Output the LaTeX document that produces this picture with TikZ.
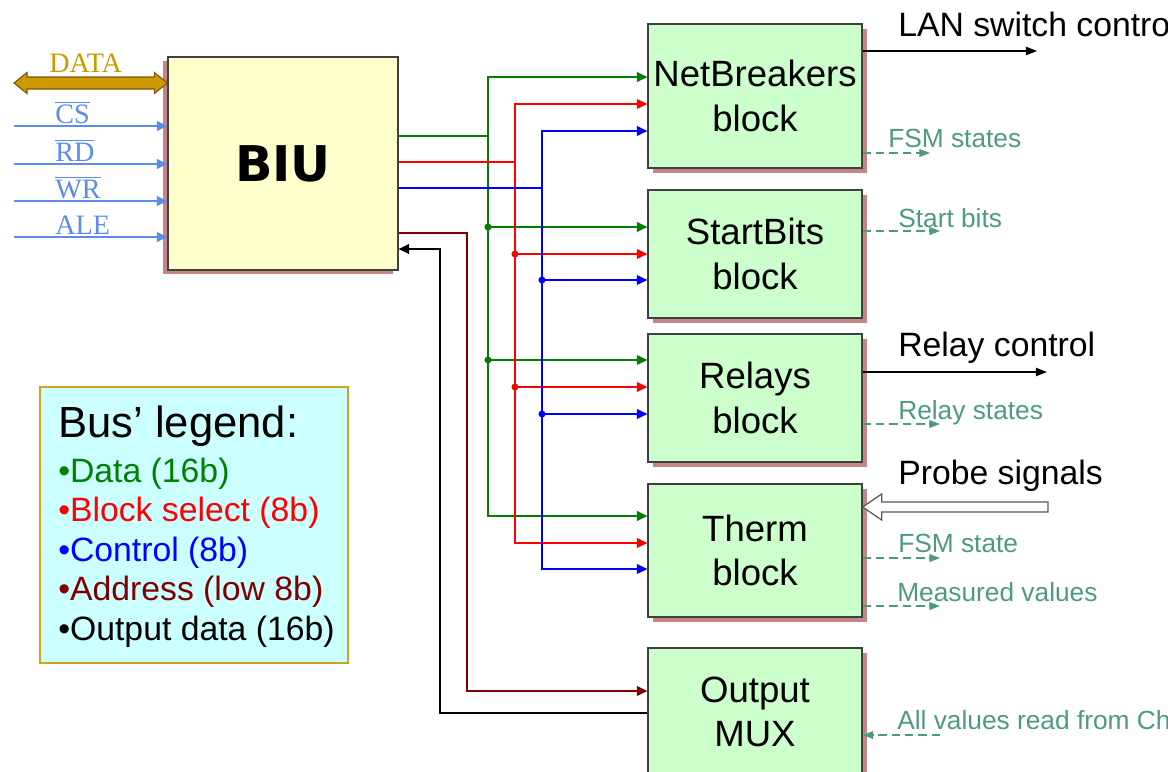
\documentclass[tikz,border=0pt]{standalone}
\usepackage{fontspec}
\setmainfont{Liberation Sans}
\newfontfamily\serifsig{Liberation Serif}
\newfontfamily\biufont{DejaVu Sans}
\usetikzlibrary{positioning,arrows.meta,calc,shadows}
\definecolor{BlkFill}{HTML}{CCFFCC}
\definecolor{BiuFill}{HTML}{FFFFCC}
\definecolor{ShadowRed}{HTML}{C38585}
\definecolor{SigBlue}{HTML}{5B8CE8}
\definecolor{DataGold}{HTML}{CC9900}
\definecolor{DataEdge}{HTML}{7A5A00}
\definecolor{StatTeal}{HTML}{4E9A80}
\definecolor{LegFill}{HTML}{CCFFFF}
\definecolor{LegEdge}{HTML}{D4A020}
\definecolor{BusGreen}{HTML}{008000}
\definecolor{BusRed}{HTML}{FF0000}
\definecolor{BusBlue}{HTML}{0000FF}
\definecolor{BusBrown}{HTML}{800000}
\newcommand\pxu{0.025cm}
\tikzset{
  blk/.style={draw=black!75, line width=0.9pt, fill=BlkFill, align=center, inner sep=0pt,
              minimum width=214*\pxu, font=\fontsize{26}{31.5}\selectfont,
              drop shadow={shadow xshift=3.5pt, shadow yshift=-3.5pt, fill=ShadowRed, opacity=1}},
  biubox/.style={draw=black!75, line width=0.9pt, fill=BiuFill, inner sep=0pt,
              minimum width=230*\pxu, minimum height=213*\pxu,
              font=\biufont\bfseries\fontsize{35}{40}\selectfont,
              drop shadow={shadow xshift=-3.5pt, shadow yshift=-3pt, fill=ShadowRed, opacity=1}},
  bus/.style={line width=1pt},
  busarr/.style={-{Triangle[length=7.5pt,width=7pt]}},
  jdot/.style={circle, fill, inner sep=0pt, minimum size=5pt},
  sigin/.style={SigBlue, line width=1pt, -{Triangle[length=7.5pt,width=7pt]}},
  siglbl/.style={anchor=base west, inner sep=0pt, text=SigBlue,
              font=\serifsig\fontsize{20}{24}\selectfont},
  databus/.style={draw=DataEdge, line width=0.8pt, fill=DataGold, line join=miter},
  outarr/.style={line width=0.9pt, -{Triangle[length=8pt,width=6pt]}},
  outlbl/.style={anchor=base west, inner sep=0pt, font=\fontsize{24}{28}\selectfont},
  stat/.style={StatTeal, line width=0.75pt, dash pattern=on 6pt off 3.5pt,
              -{Triangle[length=7.5pt,width=5.5pt]}},
  statlbl/.style={anchor=base west, inner sep=0pt, text=StatTeal,
              font=\fontsize{18.7}{22}\selectfont},
  probe/.style={draw=black!65, line width=0.9pt, fill=white},
  legbox/.style={draw=LegEdge, line width=1.5pt, fill=LegFill, inner sep=0pt,
              minimum width=308*\pxu, minimum height=276*\pxu},
  legitem/.style={anchor=base west, inner sep=0pt, font=\fontsize{24}{28}\selectfont},
}

\begin{document}
\begin{tikzpicture}[x=0.025cm, y=-0.025cm]
  \useasboundingbox (0,0) rectangle (1168,771);
  \clip (0,0) rectangle (1168,771);

  % blocks
  \node[biubox] (biu) at (283,163.5) {BIU};
  \node[blk, minimum height=144*\pxu] (nb) at (755,96) {NetBreakers\\block};
  \node[blk, minimum height=128*\pxu] (sb) at (755,254) {StartBits\\block};
  \node[blk, minimum height=128*\pxu] (rl) at (755,398) {Relays\\block};
  \node[blk, minimum height=133*\pxu] (th) at (755,550.5) {Therm\\block};
  \node[blk, minimum height=128*\pxu] (mux) at (755,712) {Output\\MUX};

  % host interface
  \coordinate (dataIn) at (14,83);
  \draw[databus] (dataIn) -- ++(13,-10.5) -- ++(0,4.5)
    -- ($(biu.west |- dataIn)+(-13,-6)$) -- ++(0,-4.5) -- (biu.west |- dataIn)
    -- ++(-13,10.5) -- ++(0,-4.5) -- ($(dataIn)+(13,6)$) -- ++(0,4.5) -- cycle;
  \node[siglbl, text=DataGold] (dataLbl) at (49,72) {DATA};
  \foreach \s/\y in {CS/126, RD/164, WR/201} {
    \coordinate (in\s) at (14,\y);
    \draw[sigin] (in\s) -- (biu.west |- in\s);
    \node[siglbl] (lbl\s) at (55,\y-3) {$\overline{\mbox{\s}}$};
  }
  \coordinate (inALE) at (14,237);
  \draw[sigin] (inALE) -- (biu.west |- inALE);
  \node[siglbl] (lblALE) at (55,234) {ALE};

  % data bus (green)
  \draw[bus, busarr, BusGreen] (biu.east |- 0,136) -| (488,77) -- (nb.west |- 0,77);
  \draw[bus, busarr, BusGreen] (488,136) |- (th.west |- 0,516);
  \foreach \b/\y in {sb/227, rl/360}
    \draw[bus, busarr, BusGreen] (488,\y) node[jdot] (g\b) {} -- (\b.west |- 0,\y);

  % block select (red)
  \draw[bus, busarr, BusRed] (biu.east |- 0,162) -| (515,104) -- (nb.west |- 0,104);
  \draw[bus, busarr, BusRed] (515,162) |- (th.west |- 0,543);
  \foreach \b/\y in {sb/254, rl/387}
    \draw[bus, busarr, BusRed] (515,\y) node[jdot] (r\b) {} -- (\b.west |- 0,\y);

  % control (blue)
  \draw[bus, busarr, BusBlue] (biu.east |- 0,188) -| (542,131) -- (nb.west |- 0,131);
  \draw[bus, busarr, BusBlue] (542,188) |- (th.west |- 0,569);
  \foreach \b/\y in {sb/280, rl/414}
    \draw[bus, busarr, BusBlue] (542,\y) node[jdot] (b\b) {} -- (\b.west |- 0,\y);

  % address + output data
  \draw[bus, busarr, BusBrown] (biu.east |- 0,233) -| (467,691) -- (mux.west |- 0,691);
  \draw[bus, busarr, black] (mux.west |- 0,713) -| (440,249) -- (biu.east |- 0,249);

  % outputs
  \coordinate (lanEnd) at (1037,51);
  \coordinate (relEnd) at (1047,372);
  \draw[outarr] (nb.east |- lanEnd) -- (lanEnd);
  \draw[outarr] (rl.east |- relEnd) -- (relEnd);
  \node[outlbl] (lanLbl) at (898,36) {LAN switch control};
  \node[outlbl] (relLbl) at (898,356) {Relay control};

  \coordinate (probeIn) at (1048,507);
  \draw[probe] (th.east |- probeIn) -- ++(19,-13) -- ++(0,8) -- ($(probeIn)+(0,-5)$)
    -- ++(0,10) -- ($(th.east |- probeIn)+(19,5)$) -- ++(0,8) -- cycle;
  \node[outlbl] (probeLbl) at (898,484) {Probe signals};

  % status outputs
  \coordinate (fsmA) at (930,153);
  \coordinate (stbE) at (940,231);
  \coordinate (rlsE) at (940,424);
  \coordinate (fsmB) at (940,558);
  \coordinate (measE) at (940,606);
  \coordinate (allS) at (940,735);
  \draw[stat] (nb.east |- fsmA) -- (fsmA);
  \draw[stat] (sb.east |- stbE) -- (stbE);
  \draw[stat] (rl.east |- rlsE) -- (rlsE);
  \draw[stat] (th.east |- fsmB) -- (fsmB);
  \draw[stat] (th.east |- measE) -- (measE);
  \draw[stat] (allS) -- (mux.east |- allS);
  \node[statlbl] (fsmALbl) at (888,147) {FSM states};
  \node[statlbl] (stbLbl) at (898,227) {Start bits};
  \node[statlbl] (rlsLbl) at (898,419) {Relay states};
  \node[statlbl] (fsmBLbl) at (898,552) {FSM state};
  \node[statlbl] (measLbl) at (897,601) {Measured values};
  \node[statlbl] (allLbl) at (897,729) {All values read from Chip};

  % legend
  \node[legbox] (legend) at (194,525) {};
  \node[legitem, font=\fontsize{31}{36}\selectfont] (legTitle) at (58,437) {Bus’ legend:};
  \foreach \t/\c [count=\i] in {Data (16b)/BusGreen, Block select (8b)/BusRed,
      Control (8b)/BusBlue, Address (low 8b)/BusBrown, Output data (16b)/black}
    \node[legitem, text=\c] (leg\i) at (58,{482+39.5*(\i-1)}) {\textbullet\t};
\end{tikzpicture}
\end{document}
